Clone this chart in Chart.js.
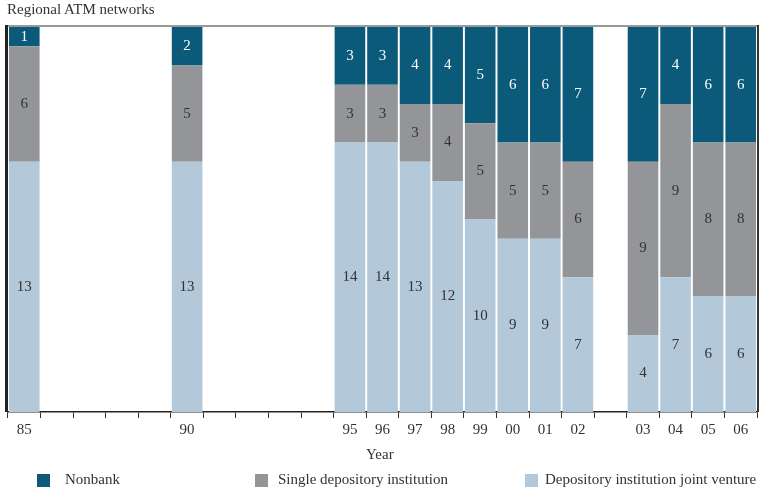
<!DOCTYPE html>
<html>
<head>
<meta charset="utf-8">
<script src="https://cdn.jsdelivr.net/npm/chart.js@4/dist/chart.umd.min.js"></script>
<style>
  html,body{margin:0;padding:0;background:#fff;}
  #wrap{position:relative;width:760px;height:494px;font-family:"Liberation Serif","DejaVu Serif",serif;color:#333;}
  #c{position:absolute;left:0;top:0;}
  .t{position:absolute;font-size:15px;white-space:nowrap;}
  .box{position:absolute;width:13px;height:13px;}
</style>
</head>
<body>
<div id="wrap">
  <canvas id="c" width="760" height="494"></canvas>
  <div class="t" style="left:7px;top:1px;">Regional ATM networks</div>
  <div class="t" style="left:366px;top:446px;">Year</div>
  <div class="box" style="left:37px;top:474px;background:#0b5a79;"></div>
  <div class="t" style="left:65px;top:471px;">Nonbank</div>
  <div class="box" style="left:255px;top:474px;background:#939598;"></div>
  <div class="t" style="left:278px;top:471px;">Single depository institution</div>
  <div class="box" style="left:525px;top:474px;background:#b3c8d8;"></div>
  <div class="t" style="left:545px;top:471px;">Depository institution joint venture</div>
</div>
<script>
const years = ['85','','','','','90','','','','','95','96','97','98','99','00','01','02','','03','04','05','06'];
const nonbank = [1,null,null,null,null,2,null,null,null,null,3,3,4,4,5,6,6,7,null,7,4,6,6];
const singleInst = [6,null,null,null,null,5,null,null,null,null,3,3,3,4,5,5,5,6,null,9,9,8,8];
const jointVenture = [13,null,null,null,null,13,null,null,null,null,14,14,13,12,10,9,9,7,null,4,7,6,6];

const labelPlugin = {
  id:'segLabels',
  afterDatasetsDraw(chart){
    const ctx = chart.ctx;
    ctx.save();
    ctx.font = '15px "Liberation Serif", serif';
    ctx.textAlign = 'center';
    ctx.textBaseline = 'middle';
    chart.data.datasets.forEach((ds,i)=>{
      const meta = chart.getDatasetMeta(i);
      meta.data.forEach((el,j)=>{
        const v = ds.data[j];
        if(v==null) return;
        const p = el.getProps(['x','y','base'],true);
        ctx.fillStyle = ds.labelColor;
        ctx.fillText(String(v), p.x, (p.y+p.base)/2);
      });
    });
    ctx.restore();
  }
};
const framePlugin = {
  id:'frame',
  afterDraw(chart){
    const a = chart.chartArea, ctx = chart.ctx;
    ctx.save();
    ctx.strokeStyle = '#999'; ctx.lineWidth = 2;
    ctx.beginPath(); ctx.moveTo(a.left-2, a.top-1); ctx.lineTo(a.right+2, a.top-1); ctx.stroke();
    ctx.strokeStyle = '#222'; ctx.lineWidth = 3;
    ctx.beginPath(); ctx.moveTo(a.left-1.5, a.top-2); ctx.lineTo(a.left-1.5, a.bottom); ctx.stroke();
    ctx.strokeStyle = '#333'; ctx.lineWidth = 2;
    ctx.beginPath(); ctx.moveTo(a.right+1, a.top-2); ctx.lineTo(a.right+1, a.bottom); ctx.stroke();
    ctx.restore();
  }
};

new Chart(document.getElementById('c'), {
  type:'bar',
  data:{
    labels: years,
    datasets:[
      {label:'Depository institution joint venture', data: jointVenture, backgroundColor:'#b3c8d8', labelColor:'#333'},
      {label:'Single depository institution', data: singleInst, backgroundColor:'#939598', labelColor:'#333'},
      {label:'Nonbank', data: nonbank, backgroundColor:'#0b5a79', labelColor:'#fff'}
    ]
  },
  options:{
    responsive:false,
    animation:false,
    layout:{padding:{left:8,right:3,top:27,bottom:52}},
    datasets:{bar:{categoryPercentage:1, barPercentage:0.94, borderWidth:0}},
    plugins:{legend:{display:false}, tooltip:{enabled:false}},
    scales:{
      x:{
        stacked:true,
        offset:true,
        grid:{offset:true, drawOnChartArea:false, drawTicks:true, tickLength:6, color:'#333'},
        border:{display:true, color:'#222', width:1.5},
        ticks:{autoSkip:false, maxRotation:0, padding:3, color:'#333', font:{family:'"Liberation Serif", serif', size:15}}
      },
      y:{stacked:true, display:false, min:0, max:20}
    }
  },
  plugins:[labelPlugin, framePlugin]
});
</script>
</body>
</html>
